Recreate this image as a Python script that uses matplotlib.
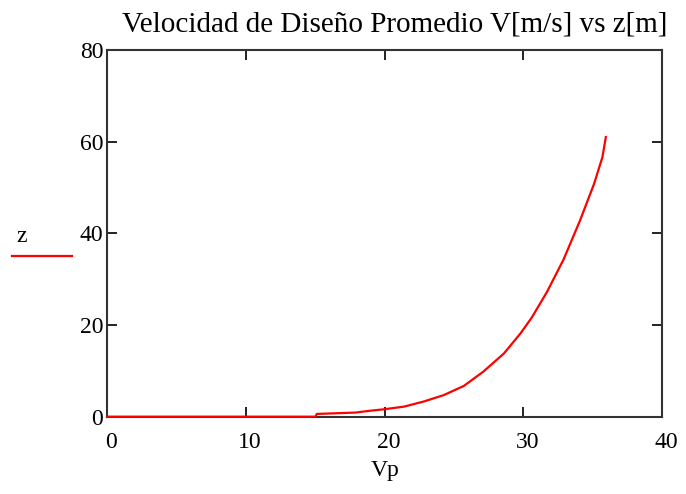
import matplotlib
matplotlib.use("Agg")
import matplotlib.pyplot as plt
from matplotlib.lines import Line2D
import matplotlib.transforms as mtransforms

# Data
vp = [0.0, 15.0, 15.1, 17.9, 18.95, 19.9, 21.4, 22.8, 24.25, 25.7, 27.1, 28.6,
      29.8, 30.6, 31.7, 32.9, 34.1, 35.1, 35.7, 35.95]
z = [0.0, 0.0, 0.6, 0.9, 1.3, 1.6, 2.2, 3.3, 4.7, 6.7, 9.8, 13.8,
     18.2, 21.6, 27.2, 34.3, 42.9, 50.8, 56.6, 61.0]
xticks = [0, 10, 20, 30, 40]
yticks = [0, 20, 40, 60, 80]
title = "Velocidad de Diseño Promedio V[m/s] vs z[m]"
xlabel = "Vp"
legend_label = "z"

plt.rcParams['font.family'] = ['Liberation Serif', 'DejaVu Serif']

fig = plt.figure(figsize=(6.86, 4.94), dpi=100)
ax = fig.add_axes([0.1567, 0.1565, 0.965 - 0.1567, 0.8988 - 0.1565])

ax.plot(vp, z, color='#ff0000', lw=1.6, zorder=5, clip_on=False)
ax.set_xlim(0, 40)
ax.set_ylim(0, 80)
ax.set_xticks(xticks)
ax.set_yticks(yticks)
ax.tick_params(direction='in', length=7, width=1.4, colors='#222222',
               labelcolor='black', labelsize=17, top=True, right=True)
ax.tick_params(axis='x', pad=11)
ax.tick_params(axis='y', pad=3)
for s in ax.spines.values():
    s.set_linewidth(1.5)
    s.set_color('#333333')
    s.set_zorder(2)

# Mathcad-style slight right shift of x tick labels
offset = mtransforms.ScaledTranslation(4 / 100, 0, fig.dpi_scale_trans)
for lab in ax.get_xticklabels():
    lab.set_transform(lab.get_transform() + offset)

fig.text((107.5 + 662) / 2 / 686, 1 - 470 / 494, xlabel, ha='center', va='center', fontsize=17)
fig.text(0.5 * (118 + 672) / 686, 1 - 24 / 494, title, ha='center', va='center', fontsize=21)

# Mathcad-style trace legend on the left
fig.text(22 / 686, 1 - 236 / 494, legend_label, ha='center', va='center', fontsize=17)
fig.add_artist(Line2D([12 / 686, 72 / 686], [1 - 256 / 494, 1 - 256 / 494],
                      transform=fig.transFigure, color='#ff0000', lw=1.6))

fig.savefig("out.png", dpi=100)
